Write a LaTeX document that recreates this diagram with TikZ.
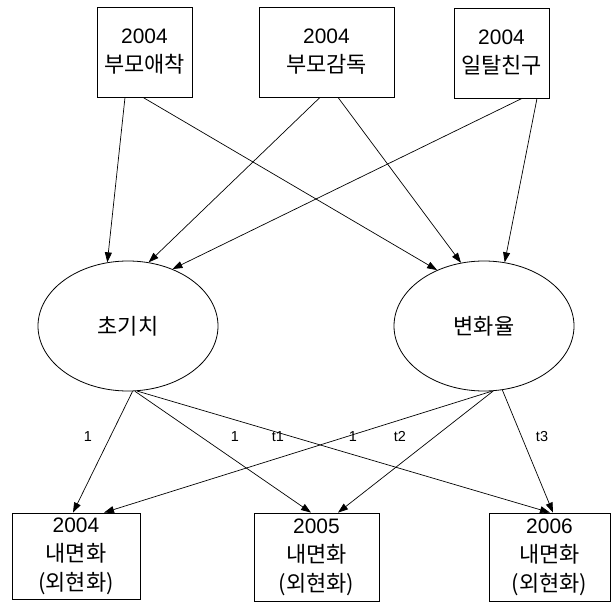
\documentclass[tikz,border=0pt]{standalone}
\usepackage{fontspec}
\setmainfont{Liberation Sans}
\newfontfamily\krfont{Noto Sans CJK KR}[Scale=1.05]
\usetikzlibrary{arrows.meta,shapes.geometric}

\begin{document}
\begin{tikzpicture}[x=1bp, y=-1bp,
    obsbox/.style={draw, line width=0.8bp, align=center, inner sep=0pt,
      font=\fontsize{21}{29}\selectfont},
    latent/.style={draw, ellipse, line width=0.8bp, inner sep=0pt,
      minimum width=180bp, minimum height=130bp,
      font=\krfont\fontsize{21}{29}\selectfont},
    regline/.style={-{Triangle[length=10bp,width=7bp]}, line width=0.7bp},
    coef/.style={font=\fontsize{14.5}{17}\selectfont}]
    \useasboundingbox (0,0) rectangle (613,604);

    % Predictores 2004
    \node[obsbox, minimum width=95bp, minimum height=90bp] (attach) at (144.5,52) {2004\\{\krfont 부모애착}};
    \node[obsbox, minimum width=135bp, minimum height=90bp] (monit) at (326.5,52) {2004\\{\krfont 부모감독}};
    \node[obsbox, minimum width=95bp, minimum height=90bp] (peer) at (501.5,53) {2004\\{\krfont 일탈친구}};

    % Factores latentes
    \node[latent] (icept) at (128,326) {초기치};
    \node[latent] (slope) at (484,326) {변화율};

    % Medidas repetidas
    \node[obsbox, minimum width=128bp, minimum height=86bp] (y04) at (76,556) {2004\\{\krfont 내면화}\\{\krfont (외현화)}};
    \node[obsbox, minimum width=125bp, minimum height=88bp] (y05) at (316.5,557) {2005\\{\krfont 내면화}\\{\krfont (외현화)}};
    \node[obsbox, minimum width=121bp, minimum height=88bp] (y06) at (549.5,557) {2006\\{\krfont 내면화}\\{\krfont (외현화)}};

    % Efectos de los predictores
    \draw[regline] ([xshift=-19.5bp]attach.south) -- (icept.108);
    \draw[regline] ([xshift=-1.5bp]attach.south) -- (slope.130);
    \draw[regline] ([xshift=-6.5bp]monit.south) -- (icept.72);
    \draw[regline] ([xshift=11.5bp]monit.south) -- (slope.110);
    \draw[regline] ([xshift=20.5bp]peer.south) -- (icept.52);
    \draw[regline] ([xshift=35.5bp]peer.south) -- (slope.72);

    % Cargas fijas
    \draw[regline] (icept.-86) -- ([xshift=-3bp]y04.north);
    \draw[regline] (icept.-84) -- ([xshift=-5.5bp]y05.north);
    \draw[regline] (icept.-82) -- ([xshift=0.5bp]y06.north);
    \draw[regline] (slope.-83) -- ([xshift=28bp]y04.north);
    \draw[regline] (slope.-82) -- ([xshift=21.5bp]y05.north);
    \draw[regline] (slope.-74) -- ([xshift=3.5bp]y06.north);

    \node[coef] (w1) at (88,437) {1};
    \node[coef] (w2) at (235,437) {1};
    \node[coef] (w3) at (278,437) {t1};
    \node[coef] (w4) at (353,437) {1};
    \node[coef] (w5) at (400,437) {t2};
    \node[coef] (w6) at (542,437) {t3};
\end{tikzpicture}
\end{document}
